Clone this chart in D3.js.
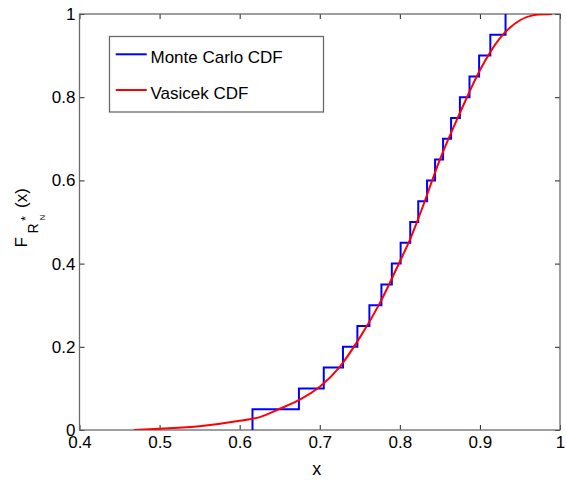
<!DOCTYPE html>
<html>
<head>
<meta charset="utf-8">
<script src="https://cdn.jsdelivr.net/npm/d3@7"></script>
<style>
  html, body { margin: 0; padding: 0; background: #fff; }
  svg { display: block; font-family: "Liberation Sans", Arial, Helvetica, sans-serif; }
</style>
</head>
<body>
<svg id="chart" width="566" height="483"></svg>
<script>
// Sorted Monte Carlo samples: the empirical CDF jumps by 1/20 at each one
const mcSamples = [0.616, 0.674, 0.705, 0.729, 0.747, 0.762, 0.777, 0.790, 0.801, 0.813,
                   0.823, 0.834, 0.844, 0.854, 0.864, 0.875, 0.887, 0.899, 0.913, 0.932];
const mcLevels = [0.05, 0.10, 0.15, 0.20, 0.25, 0.30, 0.35, 0.40, 0.45, 0.50,
                  0.55, 0.60, 0.65, 0.70, 0.75, 0.80, 0.85, 0.90, 0.95, 1.00];

// Vasicek CDF sampled along x
const vasX = [0.468, 0.50, 0.55, 0.60, 0.625, 0.65, 0.675, 0.70, 0.725, 0.75, 0.775, 0.80,
              0.8125, 0.825, 0.85, 0.875, 0.90, 0.925, 0.95, 0.97, 0.99];
const vasY = [0.0, 0.003, 0.009, 0.022, 0.031, 0.051, 0.073, 0.104, 0.152, 0.222, 0.305, 0.405,
              0.457, 0.518, 0.650, 0.762, 0.865, 0.942, 0.985, 0.998, 1.0];

const xTicks = [0.4, 0.5, 0.6, 0.7, 0.8, 0.9, 1];
const yTicks = [0, 0.2, 0.4, 0.6, 0.8, 1];

const legendLabels = ["Monte Carlo CDF", "Vasicek CDF"];
const seriesColors = ["#0000ff", "#ff0000"];

const plot = { left: 79.5, right: 560, top: 14, bottom: 430 };
const svg = d3.select("#chart");

const x = d3.scaleLinear().domain([0.4, 1]).range([plot.left, plot.right]);
const y = d3.scaleLinear().domain([0, 1]).range([plot.bottom, plot.top]);

const fmt = d => String(+d.toFixed(1));

svg.append("defs").append("clipPath").attr("id", "plotClip")
  .append("rect")
  .attr("x", plot.left).attr("y", plot.top)
  .attr("width", plot.right - plot.left).attr("height", plot.bottom - plot.top);

// axes with inward ticks
const axisColor = "#000";
function styleAxis(g) {
  g.select(".domain").remove();
  g.selectAll(".tick line").attr("stroke", "#222");
  g.selectAll(".tick text").attr("fill", axisColor).attr("font-size", 17);
}

svg.append("g").attr("transform", `translate(0,${plot.bottom})`)
  .call(d3.axisBottom(x).tickValues(xTicks).tickFormat(fmt).tickSizeInner(-5).tickSizeOuter(0).tickPadding(6))
  .call(styleAxis);
svg.append("g").attr("transform", `translate(0,${plot.top})`)
  .call(d3.axisTop(x).tickValues(xTicks).tickFormat("").tickSizeInner(-5).tickSizeOuter(0))
  .call(styleAxis);
svg.append("g").attr("transform", `translate(${plot.left},0)`)
  .call(d3.axisLeft(y).tickValues(yTicks).tickFormat(fmt).tickSizeInner(-5).tickSizeOuter(0).tickPadding(4))
  .call(styleAxis);
svg.append("g").attr("transform", `translate(${plot.right},0)`)
  .call(d3.axisRight(y).tickValues(yTicks).tickFormat("").tickSizeInner(-5).tickSizeOuter(0))
  .call(styleAxis);

svg.selectAll(".tick text").attr("font-family", "'Liberation Sans', Arial, sans-serif");

// plot box
svg.append("rect")
  .attr("x", plot.left).attr("y", plot.top)
  .attr("width", plot.right - plot.left).attr("height", plot.bottom - plot.top)
  .attr("fill", "none").attr("stroke", "#6a6a6a").attr("stroke-width", 1.3);

const marks = svg.append("g").attr("clip-path", "url(#plotClip)");

// empirical CDF as a step line
const mcPoints = [[mcSamples[0], 0]].concat(mcSamples.map((s, i) => [s, mcLevels[i]]));
marks.append("path")
  .datum(mcPoints)
  .attr("fill", "none")
  .attr("stroke", seriesColors[0])
  .attr("stroke-width", 2)
  .attr("d", d3.line().x(d => x(d[0])).y(d => y(d[1])).curve(d3.curveStepAfter));

// Vasicek CDF
const vasPoints = vasX.map((v, i) => [v, vasY[i]]);
marks.append("path")
  .datum(vasPoints)
  .attr("fill", "none")
  .attr("stroke", seriesColors[1])
  .attr("stroke-width", 2)
  .attr("d", d3.line().x(d => x(d[0])).y(d => y(d[1])).curve(d3.curveMonotoneX));

// x label
svg.append("text")
  .attr("x", (plot.left + plot.right) / 2 - 3)
  .attr("y", 475)
  .attr("text-anchor", "middle")
  .attr("font-size", 18)
  .text("x");

// y label: F_{R_N}^*(x), rotated
const yl = svg.append("g").attr("transform", "translate(27,222) rotate(-90)");
yl.append("text").attr("x", -25.5).attr("y", 0).attr("font-size", 17).text("F");
yl.append("text").attr("x", -11.5).attr("y", 11).attr("font-size", 14).text("R");
yl.append("text").attr("x", 1).attr("y", 3).attr("font-size", 13).text("*");
yl.append("text").attr("x", 1.5).attr("y", 17.5).attr("font-size", 8).text("N");
yl.append("text").attr("x", 14).attr("y", 0).attr("font-size", 17).text("(x)");

// legend
const legend = svg.append("g");
legend.append("rect")
  .attr("x", 109.5).attr("y", 36.5).attr("width", 214).attr("height", 75.5)
  .attr("fill", "#fff").attr("stroke", "#6a6a6a").attr("stroke-width", 1.3);
const legendRows = [54.3, 90];
legendLabels.forEach((lab, i) => {
  legend.append("line")
    .attr("x1", 115.7).attr("x2", 146.7)
    .attr("y1", legendRows[i]).attr("y2", legendRows[i])
    .attr("stroke", seriesColors[i]).attr("stroke-width", 2);
  legend.append("text")
    .attr("x", 150.5).attr("y", legendRows[i] + 8.5)
    .attr("font-size", 17)
    .text(lab);
});
</script>
</body>
</html>
